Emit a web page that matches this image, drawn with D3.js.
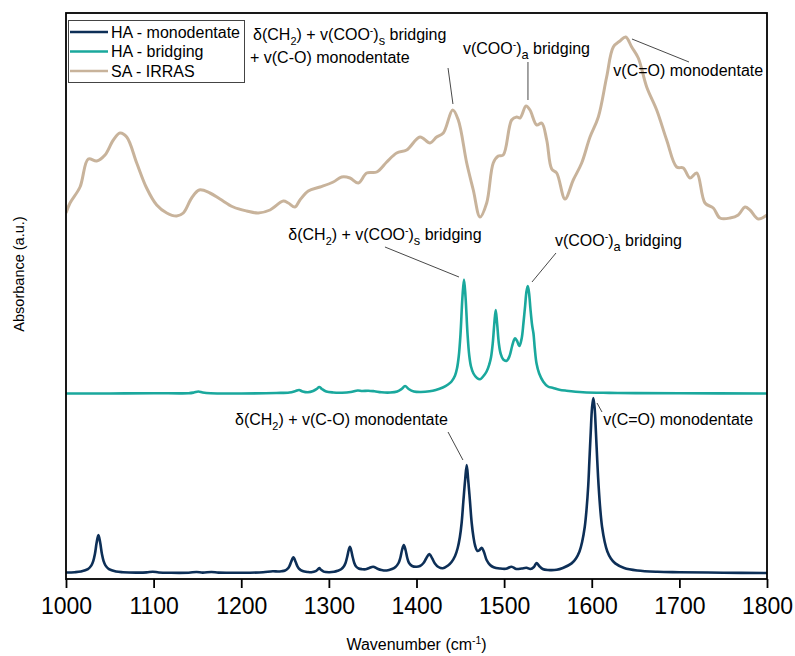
<!DOCTYPE html>
<html>
<head>
<meta charset="utf-8">
<script src="https://cdn.jsdelivr.net/npm/d3@7"></script>
<style>
  body { margin: 0; background: #fff; }
  svg text { font-family: Arial, "Liberation Sans", sans-serif; fill: #000; }
</style>
</head>
<body>
<svg id="chart" width="795" height="656"></svg>
<script>
// spectra: [wavenumber (cm-1), absorbance above own baseline (a.u.)]
var haMono = [[1000,0.005],[1010,0.008],[1017,0.015],[1025,0.038],[1029,0.076],[1031,0.117],[1033,0.19],[1035,0.304],[1037,0.38],[1039,0.304],[1041,0.19],[1043,0.117],[1045,0.076],[1049,0.038],[1057,0.015],[1065,0.008],[1080,0.004],[1092,0.006],[1099,0.013],[1106,0.005],[1120,0.002],[1140,0.003],[1149,0.01],[1156,0.004],[1166,0.01],[1174,0.004],[1190,0.003],[1210,0.003],[1225,0.008],[1236,0.018],[1242,0.015],[1246,0.018],[1250,0.025],[1253,0.043],[1255,0.069],[1257,0.113],[1259.5,0.157],[1262,0.113],[1264,0.069],[1266,0.043],[1270,0.02],[1276,0.01],[1280,0.008],[1285,0.018],[1287,0.032],[1289,0.05],[1291,0.032],[1294,0.014],[1300,0.008],[1306,0.012],[1310,0.022],[1314,0.038],[1317,0.065],[1319,0.1],[1321,0.165],[1322.5,0.225],[1324,0.263],[1325.5,0.225],[1327,0.165],[1329,0.1],[1331,0.065],[1334,0.045],[1338,0.038],[1342,0.037],[1346,0.05],[1350.5,0.063],[1355,0.045],[1360,0.03],[1366,0.025],[1372,0.04],[1376,0.06],[1379.5,0.1],[1381.5,0.15],[1383.5,0.23],[1385.5,0.28],[1387.5,0.23],[1389.5,0.15],[1391.5,0.1],[1395,0.07],[1400,0.063],[1404,0.07],[1408,0.1],[1411,0.145],[1414.5,0.19],[1418,0.145],[1421,0.095],[1425,0.06],[1430,0.047],[1436,0.075],[1440,0.11],[1444,0.17],[1447,0.25],[1449.5,0.36],[1451.5,0.5],[1453.5,0.72],[1455.5,0.93],[1457.3,1.08],[1459,0.93],[1461,0.72],[1463,0.5],[1465,0.36],[1467,0.27],[1469.5,0.22],[1472,0.23],[1474.4,0.253],[1477,0.21],[1480,0.13],[1484,0.08],[1488,0.058],[1495,0.045],[1502,0.042],[1508.5,0.063],[1514,0.04],[1520,0.045],[1525.5,0.052],[1530,0.04],[1534,0.06],[1537,0.1],[1540,0.07],[1544,0.04],[1550,0.03],[1560,0.032],[1567,0.05],[1577,0.096],[1582,0.145],[1586,0.215],[1589,0.31],[1592,0.46],[1594,0.63],[1596,0.875],[1597.3,1.12],[1598.8,1.4],[1600.3,1.65],[1601.8,1.75],[1603.3,1.65],[1604.8,1.4],[1606.3,1.12],[1607.8,0.875],[1609.8,0.63],[1611.8,0.46],[1614.8,0.31],[1617.8,0.215],[1621.8,0.145],[1626.8,0.096],[1637,0.05],[1652,0.025],[1675,0.012],[1700,0.008],[1750,0.003],[1800,0.0]];

var haBridge = [[1000,0.0],[1050,0.0],[1100,0.003],[1140,0.003],[1146,0.01],[1151,0.02],[1156,0.01],[1165,0.002],[1200,0.0],[1240,0.005],[1255,0.01],[1262,0.025],[1266,0.035],[1270,0.02],[1276,0.012],[1282,0.025],[1286,0.045],[1289,0.065],[1292,0.045],[1297,0.02],[1305,0.01],[1315,0.008],[1325,0.015],[1333,0.03],[1338,0.025],[1345,0.028],[1352,0.022],[1360,0.012],[1370,0.01],[1378,0.02],[1383,0.045],[1387,0.075],[1391,0.045],[1397,0.02],[1405,0.015],[1415,0.022],[1422,0.035],[1430,0.06],[1436,0.09],[1440,0.12],[1444,0.18],[1446.2,0.25],[1448.2,0.37],[1450.2,0.59],[1452.4,0.96],[1454.2,1.14],[1456,0.96],[1458.2,0.6],[1460.2,0.38],[1462.2,0.27],[1465,0.2],[1469,0.155],[1472.5,0.142],[1476,0.17],[1480,0.22],[1483,0.29],[1485,0.36],[1487,0.5],[1488.8,0.7],[1490.4,0.835],[1492,0.7],[1494,0.5],[1496,0.4],[1499,0.34],[1503,0.328],[1506,0.37],[1509,0.47],[1511,0.53],[1512.4,0.552],[1514.5,0.53],[1517.4,0.475],[1520,0.55],[1522,0.7],[1524,0.88],[1525.5,1.02],[1527,1.075],[1528.5,1.0],[1530,0.85],[1532,0.68],[1533.5,0.6],[1535,0.45],[1537,0.3],[1540,0.2],[1544.7,0.118],[1550,0.07],[1556,0.055],[1563,0.038],[1571,0.028],[1590,0.012],[1620,0.006],[1650,0.004],[1700,0.002],[1800,0.0]];

var saIrras = [[1000,0.08],[1004.6,0.18],[1016,0.34],[1025.4,0.62],[1035,0.6],[1044.5,0.66],[1054,0.81],[1061.6,0.88],[1069.3,0.84],[1080.7,0.58],[1092,0.33],[1103.5,0.16],[1115,0.08],[1126.3,0.05],[1133.9,0.08],[1143.4,0.23],[1152.1,0.31],[1164.3,0.28],[1175.7,0.22],[1190.9,0.14],[1206.2,0.1],[1219.5,0.08],[1232.8,0.11],[1248,0.2],[1253.7,0.18],[1261.3,0.14],[1267,0.21],[1276.5,0.3],[1289.9,0.34],[1305,0.39],[1314.6,0.44],[1324.1,0.43],[1333.6,0.38],[1343.2,0.48],[1354.6,0.49],[1366,0.59],[1377.4,0.68],[1388.8,0.71],[1404,0.84],[1415.4,0.78],[1423,0.84],[1430.6,0.88],[1441.3,1.11],[1447.7,1.01],[1457.3,0.58],[1464.8,0.31],[1472.5,0.04],[1480.1,0.18],[1487.6,0.58],[1493.3,0.65],[1499,0.66],[1508.6,1.01],[1514.3,1.04],[1518.1,1.03],[1525,1.15],[1529.5,1.11],[1537.2,0.96],[1542.9,0.98],[1548.6,0.81],[1554.3,0.52],[1560,0.48],[1569.5,0.22],[1578.9,0.41],[1588.5,0.58],[1598,0.84],[1607.5,1.04],[1617,1.44],[1624.6,1.74],[1632.2,1.8],[1638.7,1.84],[1645.6,1.74],[1653.1,1.63],[1662.7,1.34],[1674.1,1.11],[1685.5,0.81],[1696.9,0.54],[1704.5,0.53],[1712.1,0.43],[1719.8,0.48],[1729.2,0.18],[1738.7,0.13],[1746.3,0.03],[1757.8,0.03],[1767.2,0.06],[1774.9,0.14],[1780.6,0.11],[1790.1,0.02],[1800,0.06]];

var seriesNames = ["HA - monodentate", "HA - bridging", "SA - IRRAS"];
var seriesOffsets = [0.06, 1.855, 3.58];
var seriesColors = ["#0d2f57", "#1aa89d", "#c8b39b"];
var xTicks = [1000, 1100, 1200, 1300, 1400, 1500, 1600, 1700, 1800];

// band assignments: text, text position, leader line (wavenumber, a.u.)
var labels = [
  { text: "δ(CH_{2}) + v(COO^{-})_{s} bridging", at: [1213.5, 5.39], line: null },
  { text: "+ v(C-O) monodentate", at: [1210, 5.16], line: [[1436, 5.11], [1441.6, 4.75]] },
  { text: "v(COO^{-})_{a} bridging", at: [1453, 5.25], line: [[1527.2, 5.17], [1527.2, 4.79]] },
  { text: "v(C=O) monodentate", at: [1624.6, 5.03], line: [[1645.9, 5.40], [1711, 5.17]] },
  { text: "δ(CH_{2}) + v(COO^{-})_{s} bridging", at: [1253.7, 3.39], line: [[1364, 3.32], [1448.5, 3.02]] },
  { text: "v(COO^{-})_{a} bridging", at: [1558, 3.33], line: [[1559.2, 3.26], [1531.8, 2.97]] },
  { text: "δ(CH_{2}) + v(C-O) monodentate", at: [1192.9, 1.54], line: [[1436, 1.47], [1453, 1.19]] },
  { text: "v(C=O) monodentate", at: [1613.2, 1.54], line: [[1606, 1.76], [1611.7, 1.67]] }
];

var width = 795, height = 656;
var margin = { top: 13, right: 28, bottom: 77, left: 66 };
var svg = d3.select("#chart");

var x = d3.scaleLinear().domain([1000, 1800]).range([margin.left, width - margin.right]);
var y = d3.scaleLinear().domain([0, 5.66]).range([height - margin.bottom, margin.top]);

svg.append("clipPath").attr("id", "plotclip")
  .append("rect")
    .attr("x", margin.left).attr("y", margin.top)
    .attr("width", width - margin.left - margin.right)
    .attr("height", height - margin.top - margin.bottom);

var spectra = [haMono, haBridge, saIrras];
var plot = svg.append("g").attr("clip-path", "url(#plotclip)");

spectra.forEach(function(data, i) {
  var line = d3.line()
    .x(d => x(d[0]))
    .y(d => y(d[1] + seriesOffsets[i]))
    .curve(d3.curveCatmullRom.alpha(0.5));
  plot.append("path")
    .datum(data)
    .attr("fill", "none")
    .attr("stroke", seriesColors[i])
    .attr("stroke-width", i == 2 ? 3 : 2.6)
    .attr("stroke-linejoin", "round")
    .attr("d", line);
});

// frame
svg.append("rect")
  .attr("x", margin.left).attr("y", margin.top)
  .attr("width", width - margin.left - margin.right)
  .attr("height", height - margin.top - margin.bottom)
  .attr("fill", "none").attr("stroke", "#000").attr("stroke-width", 1.8);

// x axis, major + minor ticks
var xAxis = svg.append("g").attr("transform", "translate(0," + (height - margin.bottom) + ")");
xAxis.call(d3.axisBottom(x).tickValues(d3.range(1050, 1800, 100)).tickSize(5).tickFormat(""));
xAxis.call(d3.axisBottom(x).tickValues(xTicks).tickSize(9).tickPadding(10).tickFormat(d3.format("d")));
xAxis.select(".domain").remove();
xAxis.selectAll("line").attr("stroke", "#000").attr("stroke-width", 1.8);
xAxis.selectAll("text")
  .style("font-family", 'Arial, "Liberation Sans", sans-serif')
  .style("font-size", "23px").attr("fill", "#000");

// rich text helper: _{sub} and ^{sup}
function richText(sel, str) {
  var re = /([_^])\{([^}]*)\}/g, last = 0, m, shift = 0;
  function add(t, kind) {
    if (!t) return;
    var target = kind == "sub" ? 5 : kind == "sup" ? -6 : 0;
    var ts = sel.append("tspan").attr("dy", target - shift).text(t);
    if (kind == "sub") ts.style("font-size", /\d/.test(t) ? "0.68em" : "0.8em");
    if (kind == "sup") ts.style("font-size", "0.65em");
    shift = target;
  }
  while ((m = re.exec(str)) !== null) {
    add(str.slice(last, m.index), null);
    add(m[2], m[1] == "_" ? "sub" : "sup");
    last = re.lastIndex;
  }
  add(str.slice(last), null);
}

var ann = svg.append("g");
labels.forEach(function(l) {
  var t = ann.append("text")
    .attr("x", x(l.at[0])).attr("y", y(l.at[1]))
    .style("font-size", "16px");
  richText(t, l.text);
  if (l.line) {
    ann.append("line")
      .attr("x1", x(l.line[0][0])).attr("y1", y(l.line[0][1]))
      .attr("x2", x(l.line[1][0])).attr("y2", y(l.line[1][1]))
      .attr("stroke", "#333").attr("stroke-width", 0.9);
  }
});

// legend
var legend = svg.append("g");
legend.append("rect")
  .attr("x", 68.5).attr("y", 20.5).attr("width", 176).attr("height", 62)
  .attr("fill", "#fff").attr("stroke", "#444").attr("stroke-width", 1);
seriesNames.forEach(function(name, i) {
  var ly = 32 + i * 19.5;
  legend.append("line")
    .attr("x1", 70).attr("x2", 108).attr("y1", ly).attr("y2", ly)
    .attr("stroke", seriesColors[i]).attr("stroke-width", 2.6);
  legend.append("text")
    .attr("x", 111).attr("y", ly + 5.8)
    .style("font-size", "16px").text(name);
});

// axis titles
var xt = svg.append("text")
  .attr("x", (margin.left + width - margin.right) / 2).attr("y", 650)
  .attr("text-anchor", "middle").style("font-size", "16px");
richText(xt, "Wavenumber (cm^{-1})");

svg.append("text")
  .attr("transform", "translate(24,274) rotate(-90)")
  .attr("text-anchor", "middle").style("font-size", "14.5px")
  .text("Absorbance (a.u.)");
</script>
</body>
</html>
